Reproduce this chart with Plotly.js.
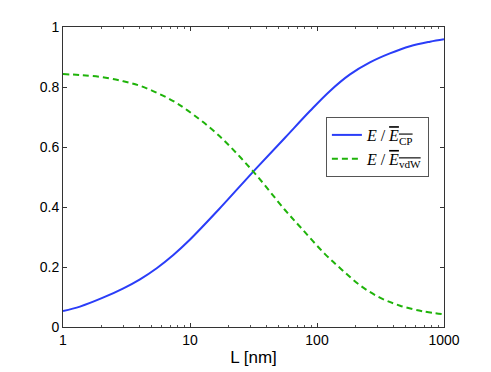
<!DOCTYPE html>
<html>
<head>
<meta charset="utf-8">
<script src="https://cdn.plot.ly/plotly-3.0.1.min.js"></script>
<style>
  html, body { margin: 0; padding: 0; background: #fff; }
  #graph { width: 491px; height: 372px; }
</style>
</head>
<body>
<div id="graph"></div>
<script>
// values
const L_cp = [1, 1.36, 2.02, 2.99, 4.04, 5.47, 7.39, 9.87, 16.7, 31.5, 56, 88, 126.6, 182, 261, 375, 540, 776, 1000];
const E_cp = [0.053, 0.068, 0.096, 0.129, 0.159, 0.196, 0.24, 0.289, 0.39, 0.518, 0.631, 0.72, 0.787, 0.842, 0.882, 0.912, 0.936, 0.951, 0.959];

const L_vdw = [1, 1.36, 2.02, 2.99, 4.04, 5.47, 7.39, 9.5, 16.7, 31.5, 56, 75.8, 115.6, 156, 218, 313, 451, 687, 1000];
const E_vdw = [0.843, 0.84, 0.833, 0.819, 0.804, 0.781, 0.753, 0.723, 0.64, 0.518, 0.39, 0.328, 0.243, 0.192, 0.139, 0.098, 0.071, 0.052, 0.042];

const x_ticks = [1, 10, 100, 1000];
const y_ticks = [0, 0.2, 0.4, 0.6, 0.8, 1];

const cp_trace = {
  x: L_cp,
  y: E_cp,
  type: "scatter",
  mode: "lines",
  name: "<i>E</i> / <span style=\"text-decoration:overline\"><i>E</i><sub>CP</sub></span>",
  line: { color: "#2a3df8", width: 2, shape: "spline", smoothing: 1 },
};

const vdw_trace = {
  x: L_vdw,
  y: E_vdw,
  type: "scatter",
  mode: "lines",
  name: "<i>E</i> / <span style=\"text-decoration:overline\"><i>E</i><sub>vdW</sub></span>",
  line: { color: "#1fb30a", width: 2, dash: "6px,4px", shape: "spline", smoothing: 1 },
};

const layout = {
  width: 491,
  height: 372,
  margin: { l: 63, r: 47, t: 27, b: 45 },
  paper_bgcolor: "#fff",
  plot_bgcolor: "#fff",
  font: { family: "Liberation Sans, Arial, sans-serif", size: 14, color: "#000" },
  showlegend: true,
  legend: {
    x: 0.69,
    y: 0.70,
    xanchor: "left",
    yanchor: "top",
    bgcolor: "#fff",
    bordercolor: "#555",
    borderwidth: 1,
    font: { family: "Liberation Serif, DejaVu Serif, serif", size: 16 },
    tracegroupgap: 0,
  },
  xaxis: {
    type: "log",
    range: [0, 3],
    tickvals: x_ticks,
    ticktext: x_ticks.map(String),
    ticks: "inside",
    ticklen: 4,
    tickcolor: "#333",
    showline: true,
    linecolor: "#333",
    linewidth: 1,
    mirror: "ticks",
    showgrid: false,
    zeroline: false,
    minor: { dtick: "D1", ticks: "inside", ticklen: 2, tickcolor: "#555", showgrid: false },
    title: { text: "L [nm]", font: { size: 17 }, standoff: 4 },
  },
  yaxis: {
    range: [0, 1],
    tickvals: y_ticks,
    ticktext: y_ticks.map(String),
    ticks: "inside",
    ticklen: 4,
    tickcolor: "#333",
    showline: true,
    linecolor: "#333",
    linewidth: 1,
    mirror: "ticks",
    showgrid: false,
    zeroline: false,
  },
};

Plotly.newPlot("graph", [cp_trace, vdw_trace], layout, { staticPlot: true });
</script>
</body>
</html>
